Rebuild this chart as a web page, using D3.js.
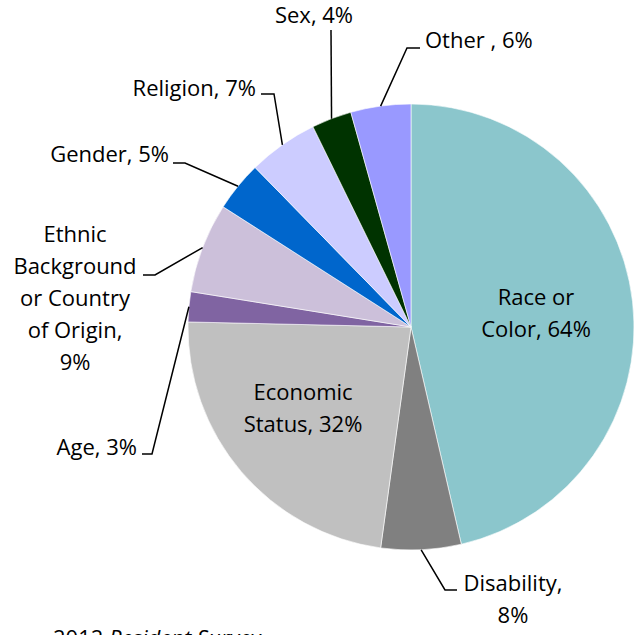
<!DOCTYPE html>
<html>
<head>
<meta charset="utf-8">
<script src="https://cdn.jsdelivr.net/npm/d3@7"></script>
<style>
  html, body { margin: 0; padding: 0; background: #fff; }
  svg { display: block; }
  text { font-family: "Open Sans", Lato, sans-serif; font-size: 22px; fill: #000; }
</style>
</head>
<body>
<svg id="chart" width="641" height="635"></svg>
<script>
// Reasons cited for unfair treatment (multiple responses allowed)
const categories = ["Race or Color", "Disability", "Economic Status", "Age",
  "Ethnic Background or Country of Origin", "Gender", "Religion", "Sex", "Other "];
const values = [64, 8, 32, 3, 9, 5, 7, 4, 6];
const colors = ["#8BC6CC", "#808080", "#C0C0C0", "#8064A2", "#CCC0DA",
  "#0066CC", "#CCCCFF", "#003300", "#9999FF"];

// Label text lines per slice
const labelLines = [
  ["Race or", "Color, 64%"],
  ["Disability,", "8%"],
  ["Economic", "Status, 32%"],
  ["Age, 3%"],
  ["Ethnic", "Background", "or Country", "of Origin,", "9%"],
  ["Gender, 5%"],
  ["Religion, 7%"],
  ["Sex, 4%"],
  ["Other , 6%"]
];

const cx = 411, cy = 327, R = 223;
const svg = d3.select("#chart");
const g = svg.append("g").attr("transform", `translate(${cx},${cy})`);

const pie = d3.pie().sort(null).value(d => d)(values);
const arc = d3.arc().innerRadius(0).outerRadius(R);

g.selectAll("path.slice")
  .data(pie)
  .join("path")
  .attr("class", "slice")
  .attr("d", arc)
  .attr("fill", (d, i) => colors[i])
  .attr("stroke", "#fff")
  .attr("stroke-width", 0.6);

// Point on the rim at a slice's mid angle
function rim(d) {
  const a = (d.startAngle + d.endAngle) / 2;
  return [Math.sin(a) * R, -Math.cos(a) * R];
}

// Label placement (relative to pie centre): first baseline of the text block,
// plus the elbow and end of the leader line for labels outside the pie
const layout = [
  { text: [125, -22], anchor: "middle" },
  { elbow: [34, 263], end: [46, 263], text: [102, 264], anchor: "middle" },
  { text: [-108, 73], anchor: "middle" },
  { elbow: [-259, 127], end: [-269, 127], text: [-274, 128], anchor: "end" },
  { elbow: [-256, -52], end: [-268, -52], text: [-336, -85], anchor: "middle" },
  { elbow: [-226, -164], end: [-238, -164], text: [-242, -165], anchor: "end" },
  { elbow: [-137, -233], end: [-150, -233], text: [-155, -231], anchor: "end" },
  { elbow: [-80, -297], end: [-80, -297], text: [-97, -304], anchor: "middle" },
  { elbow: [-4, -279], end: [9, -279], text: [14, -279], anchor: "start" }
];

const lineH = 32;
pie.forEach((d, i) => {
  const L = layout[i];
  const lines = labelLines[i];
  if (L.elbow) {
    g.append("path")
      .attr("d", d3.line()([rim(d), L.elbow, L.end]))
      .attr("fill", "none")
      .attr("stroke", "#000")
      .attr("stroke-width", 1.5);
  }
  const t = g.append("text").attr("text-anchor", L.anchor);
  lines.forEach((s, k) => {
    t.append("tspan").attr("x", L.text[0])
      .attr("y", L.text[1] + k * lineH)
      .text(s);
  });
});

// Source note along the bottom edge
const note = svg.append("text").attr("x", 53).attr("y", 646);
note.append("tspan").text("2012 ");
note.append("tspan").attr("font-style", "italic").text("Resident Survey");
</script>
</body>
</html>
